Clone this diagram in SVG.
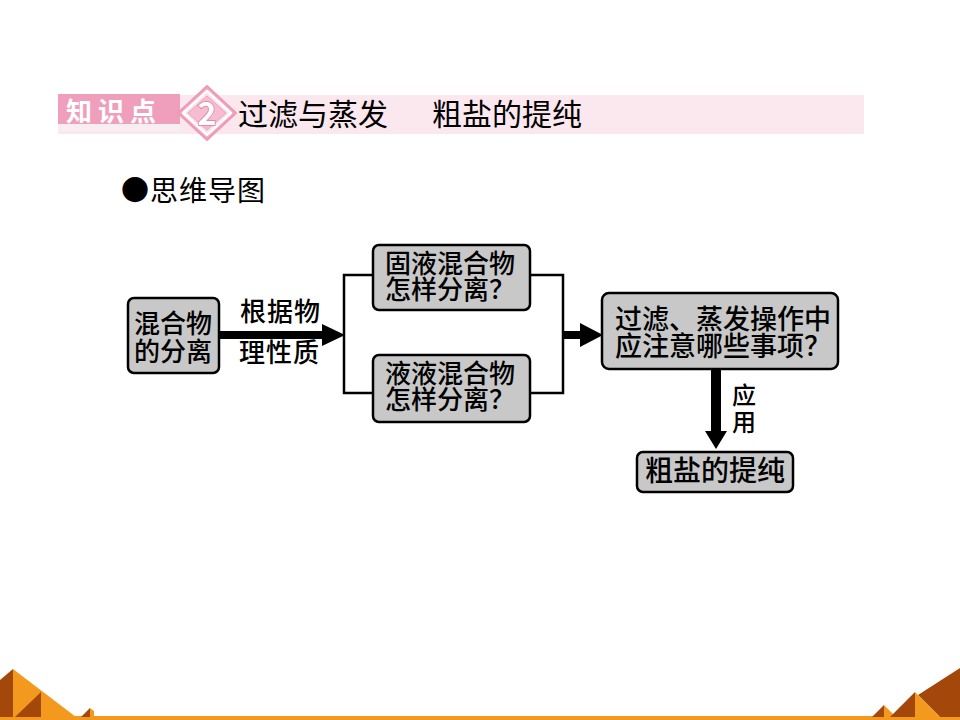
<svg xmlns="http://www.w3.org/2000/svg" width="960" height="720" viewBox="0 0 960 720">
<style>
.node rect{fill:#c8c8c8;stroke:#000;stroke-width:2.5}
.t{font-family:"Noto Sans CJK SC","Noto Sans CJK TC",sans-serif;fill:#000}
.nt{font-size:26px;font-weight:500}
.ln{fill:none;stroke:#000;stroke-width:2.5}
.ar{fill:#000}
</style>
<rect width="960" height="720" fill="#fff"/>
<!-- header -->
<g id="header">
<rect x="58" y="95" width="806" height="39" fill="#fbe7ee"/>
<rect x="58" y="94" width="122" height="30" fill="#ef9fbb"/>
<rect x="58" y="124" width="122" height="7" fill="#f6eef1"/>
<path d="M207,86 L236,113 L207,140 L178,113 Z" fill="#f2a8c2" stroke="#ee9ab7" stroke-width="2" stroke-linejoin="round"/>
<path d="M207,91 L231,113 L207,135 L183,113 Z" fill="#fbe0ea" stroke="#fff" stroke-width="2.5" stroke-linejoin="round"/>
<path d="M207,96 L226,113 L207,130 L188,113 Z" fill="#f6bcd0" stroke="#f0a0bc" stroke-width="1"/>
<text x="207" y="125" text-anchor="middle" class="t" style="font-size:32px;font-weight:700;fill:#fff;stroke:#e07fa2;stroke-width:1.6;paint-order:stroke">2</text>
<text x="66" y="121" class="t" style="font-size:26px;font-weight:700;fill:#fff;letter-spacing:6px">知识点</text>
<text x="238" y="125" class="t" style="font-size:30px">过滤与蒸发</text>
<text x="432" y="125" class="t" style="font-size:30px">粗盐的提纯</text>
</g>
<text x="121" y="201" class="t" style="font-size:28px;letter-spacing:1px">●思维导图</text>
<!-- connectors -->
<g id="connectors">
<rect x="219" y="331" width="106" height="8" class="ar"/>
<path d="M322,324 L345,335 L322,346 Z" class="ar"/>
<path d="M373,275 H344 V393 H373" class="ln"/>
<path d="M530,275 H563 V393 H530" class="ln"/>
<rect x="563" y="331" width="20" height="8" class="ar"/>
<path d="M580,323 L603,335 L580,347 Z" class="ar"/>
<rect x="711" y="369" width="10" height="65" class="ar"/>
<path d="M705,431 L716,449 L727,431 Z" class="ar"/>
<text x="732" y="404" class="t" style="font-size:24px;font-weight:500">应</text>
<text x="732" y="431" class="t" style="font-size:24px;font-weight:500">用</text>
<text x="240" y="321" class="t nt" style="letter-spacing:1px">根据物</text>
<text x="239" y="362" class="t nt" style="letter-spacing:1px">理性质</text>
</g>
<!-- nodes -->
<g id="n1" class="node">
<rect x="128" y="298" width="91" height="75" rx="6"/>
<text x="134" y="333" class="t nt">混合物</text>
<text x="134" y="361" class="t nt">的分离</text>
</g>
<g id="n2" class="node">
<rect x="373" y="245" width="157" height="65" rx="6"/>
<text x="385" y="273" class="t nt">固液混合物</text>
<text x="385" y="299" class="t nt">怎样分离？</text>
</g>
<g id="n3" class="node">
<rect x="373" y="355" width="157" height="67" rx="6"/>
<text x="385" y="383" class="t nt">液液混合物</text>
<text x="385" y="409" class="t nt">怎样分离？</text>
</g>
<g id="n4" class="node">
<rect x="602" y="293" width="236" height="76" rx="7"/>
<text x="615" y="329" class="t nt" style="font-size:27px">过滤、蒸发操作中</text>
<text x="615" y="356" class="t nt" style="font-size:27px">应注意哪些事项？</text>
</g>
<g id="n5" class="node">
<rect x="637" y="452" width="156" height="40" rx="6"/>
<text x="645" y="481" class="t nt" style="font-size:28px">粗盐的提纯</text>
</g>
<!-- bottom decoration -->
<g id="decor">
<rect x="0" y="716" width="960" height="4" fill="#f39a1e"/>
<path d="M0,680 L13,669 L13,717 L0,717 Z" fill="#a3470b"/>
<path d="M13,669 L76,717 L13,717 Z" fill="#f39a1e"/>
<path d="M41,692 L15,717 L41,717 Z" fill="#a3470b"/>
<path d="M41,692 L74,717 L41,717 Z" fill="#f39a1e"/>
<path d="M90,708 L81,717 L90,717 Z" fill="#a3470b"/>
<path d="M90,708 L94,711 L94,717 L90,717 Z" fill="#f39a1e"/>
<path d="M918,695 L960,668 L960,717 L940,717 Z" fill="#a3470b"/>
<path d="M884,705 L872,717 L884,717 Z" fill="#a3470b"/>
<path d="M884,705 L896,717 L884,717 Z" fill="#f39a1e"/>
<path d="M915,692 L890,717 L915,717 Z" fill="#a3470b"/>
<path d="M915,692 L940,717 L915,717 Z" fill="#f39a1e"/>
</g>
</svg>
